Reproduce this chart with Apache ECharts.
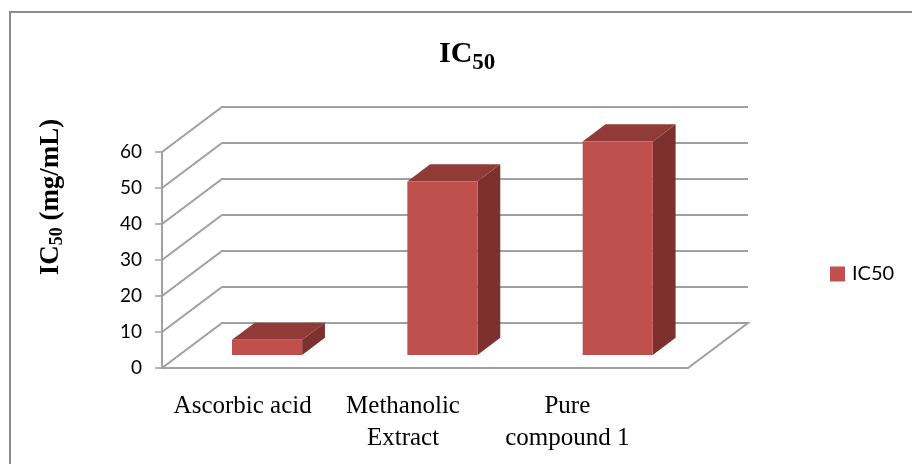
<!DOCTYPE html>
<html><head><meta charset="utf-8">
<script src="https://cdn.jsdelivr.net/npm/echarts@6/dist/echarts.min.js"></script>
<style>html,body{margin:0;padding:0;background:#fff}#c{width:912px;height:464px}</style>
</head><body><div id="c"></div>
<script>
// ---- data ----
const categories = ['Ascorbic acid', 'Methanolic\nExtract', 'Pure\ncompound 1'];
const ic50Values = [4.2, 48.2, 59.3];
const yTicks = [0, 10, 20, 30, 40, 50, 60];
const seriesName = 'IC50';

// ---- style ----
const DEPTH = [60, -45];
const BAR_FRONT = 0.29, BAR_BACK = 0.67, BAR_WIDTH = 0.4;
const FRONT = '#C0504D', TOP = '#913B39', SIDE = '#7D312F';
const GRID_COLOR = '#A0A0A0';
const SERIF = '"Liberation Serif", "Times New Roman", serif';
const SANS = 'Lato, Carlito, Calibri, sans-serif';

const chart = echarts.init(document.getElementById('c'), null, {renderer: 'canvas'});

function renderWalls(params, api) {
  const cs = params.coordSys;
  const v = api.value(1);
  const y = api.coord([0, v])[1];
  const L = cs.x, R = cs.x + cs.width;
  const pts = [[L, y], [L + DEPTH[0], y + DEPTH[1]], [R + DEPTH[0], y + DEPTH[1]]];
  if (v === yTicks[0]) pts.push([R, y]);
  return {type: 'polyline', shape: {points: pts}, style: {stroke: GRID_COLOR, lineWidth: 2, fill: null}};
}

function renderBar(params, api) {
  const i = api.value(0), v = api.value(1);
  const base = api.coord([i, 0]), top = api.coord([i, v]);
  const band = api.size([1, 0])[0];
  const w = band * BAR_WIDTH;
  const ox = DEPTH[0] * BAR_FRONT, oy = DEPTH[1] * BAR_FRONT;
  const dx = DEPTH[0] * (BAR_BACK - BAR_FRONT), dy = DEPTH[1] * (BAR_BACK - BAR_FRONT);
  const x0 = base[0] - w / 2 + ox, x1 = base[0] + w / 2 + ox;
  const yb = base[1] + oy, yt = top[1] + oy;
  return {type: 'group', children: [
    {type: 'polygon', shape: {points: [[x1, yb], [x1 + dx, yb + dy], [x1 + dx, yt + dy], [x1, yt]]}, style: {fill: SIDE}},
    {type: 'polygon', shape: {points: [[x0, yt], [x1, yt], [x1 + dx, yt + dy], [x0 + dx, yt + dy]]}, style: {fill: TOP}},
    {type: 'rect', shape: {x: x0, y: yt, width: w, height: yb - yt}, style: {fill: FRONT}}
  ]};
}

const labelShift = [14, 44, 66];

chart.setOption({
  animation: false,
  backgroundColor: '#fff',
  title: {
    text: '{a|IC}{b|50}',
    left: 439, top: 39, padding: 0,
    textStyle: {
      rich: {
        a: {fontFamily: SERIF, fontWeight: 'bold', fontSize: 30, lineHeight: 34, color: '#000', verticalAlign: 'top'},
        b: {fontFamily: SERIF, fontWeight: 'bold', fontSize: 23, lineHeight: 16, color: '#000', verticalAlign: 'top', padding: [13, 0, 0, 0]}
      }
    }
  },
  legend: {
    data: [seriesName],
    left: 830, top: 264, padding: 0,
    itemWidth: 15, itemHeight: 15, icon: 'rect',
    textStyle: {fontFamily: SANS, fontSize: 20, color: '#000', padding: [0, 0, 0, 2]}
  },
  grid: {left: 162, right: 224, top: 152, bottom: 96},
  xAxis: {
    type: 'category',
    data: categories,
    axisLine: {lineStyle: {color: GRID_COLOR, width: 2}},
    axisTick: {length: 6, lineStyle: {color: GRID_COLOR, width: 1.5}},
    axisLabel: {
      margin: 22,
      interval: 0,
      formatter: function (val, idx) {
        return val.split('\n').map(s => '{c' + idx + '|' + s + '}').join('\n');
      },
      rich: {
        c0: {fontFamily: SERIF, fontSize: 25, lineHeight: 32, color: '#000', padding: [0, labelShift[0], 0, 0]},
        c1: {fontFamily: SERIF, fontSize: 25, lineHeight: 32, color: '#000', padding: [0, labelShift[1], 0, 0]},
        c2: {fontFamily: SERIF, fontSize: 25, lineHeight: 32, color: '#000', padding: [0, labelShift[2], 0, 0]}
      }
    },
    splitLine: {show: false}
  },
  yAxis: {
    type: 'value',
    min: 0, max: 60, interval: 10,
    axisLine: {show: true, lineStyle: {color: GRID_COLOR, width: 2}},
    axisTick: {show: true, length: 7, lineStyle: {color: GRID_COLOR, width: 1.5}},
    axisLabel: {margin: 20, fontFamily: SANS, fontSize: 19, color: '#000'},
    splitLine: {show: false}
  },
  graphic: [
    {type: 'rect', shape: {x: 10, y: 12, width: 1000, height: 1000}, style: {stroke: '#8c8c8c', lineWidth: 2, fill: null}, silent: true, z: 0},
    {type: 'text', x: 53, y: 197, rotation: Math.PI / 2,
     style: {
       text: '{a|IC}{b|50}{a| (mg/mL)}', align: 'center', verticalAlign: 'middle',
       rich: {
         a: {fontFamily: SERIF, fontWeight: 'bold', fontSize: 27, lineHeight: 30, fill: '#000', verticalAlign: 'top'},
         b: {fontFamily: SERIF, fontWeight: 'bold', fontSize: 18, lineHeight: 14, fill: '#000', verticalAlign: 'top', padding: [10, 0, 0, 0]}
       }
     }}
  ],
  series: [
    {
      name: 'walls', type: 'custom', silent: true, z: 1,
      data: yTicks.map(v => [0, v]),
      renderItem: renderWalls
    },
    {
      name: seriesName, type: 'custom', z: 3,
      itemStyle: {color: FRONT},
      data: ic50Values.map((v, i) => [i, v]),
      renderItem: renderBar
    }
  ]
});
</script>
</body></html>
